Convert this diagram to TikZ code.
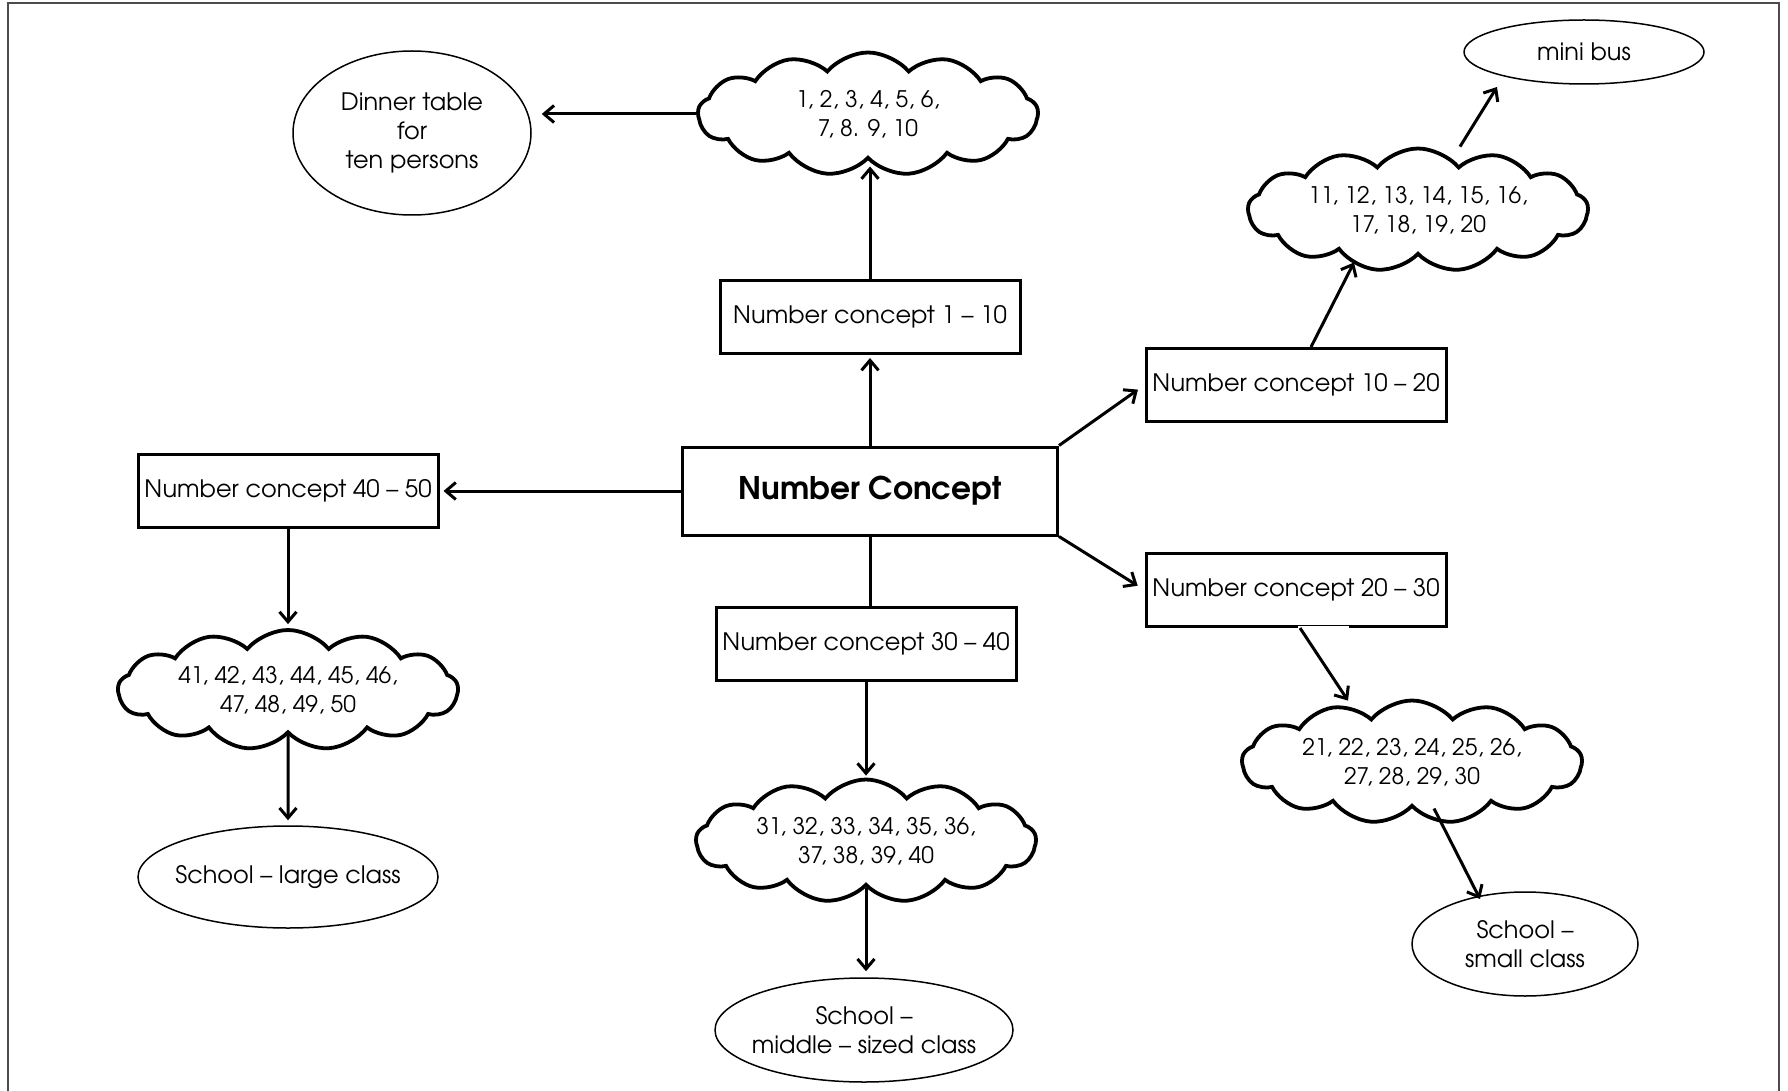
\documentclass[tikz,border=0pt]{standalone}
\usepackage{fontspec}
\setmainfont{texgyreadventor}[Extension=.otf, UprightFont=*-regular, BoldFont=*-bold]
\usetikzlibrary{shapes.geometric,shapes.symbols,arrows.meta}
\begin{document}
\begin{tikzpicture}[x=0.5pt,y=-0.5pt,
  txt/.style={font=\fontsize{12}{14.5}\selectfont, align=center, inner sep=0pt},
  box/.style={txt, draw, line width=1.5pt, minimum width=150pt, minimum height=36.5pt},
  mainbox/.style={draw, line width=1.5pt, minimum width=187.5pt, minimum height=44pt, inner sep=0pt, font=\fontsize{15.6}{18}\selectfont\bfseries},
  ell/.style={draw, ellipse, line width=0.75pt, inner sep=0pt},
  etxt/.style={txt},
  puff/.style={txt, font=\fontsize{11.4}{14.2}\selectfont, draw, cloud, cloud puffs=13, cloud puff arc=100, cloud ignores aspect, line width=1.9pt, minimum width=170pt, minimum height=61.5pt},
  arr/.style={line width=1.5pt, -{Straight Barb[length=5pt,width=8.5pt]}},
  link/.style={line width=1.5pt},
  frame/.style={line width=1pt, draw=black!70}]
\useasboundingbox (0,0) rectangle (1788,1091);
\draw[frame] (8,1091) -- (8,3) -- (1779,3) -- (1779,1091);

% nodes
\node[mainbox] (central) at (870,491) {Number Concept};
\node[box] (b1) at (870,317) {Number concept 1 -- 10};
\node[box] (b10) at (1296,385) {Number concept 10 -- 20};
\node[box] (b20) at (1296,590) {Number concept 20 -- 30};
\node[box] (b30) at (866,644) {Number concept 30 -- 40};
\node[box] (b40) at (288,491) {Number concept 40 -- 50};

\node[puff] (c1) at (868,114) {1, 2, 3, 4, 5, 6,\\7, 8. 9, 10};
\node[puff] (c2) at (1418,210) {11, 12, 13, 14, 15, 16,\\17, 18, 19, 20};
\node[puff] (c5) at (1412,762) {21, 22, 23, 24, 25, 26,\\27, 28, 29, 30};
\node[puff] (c3) at (866,841) {31, 32, 33, 34, 35, 36,\\37, 38, 39, 40};
\node[puff, minimum height=60pt] (c4) at (288,690) {41, 42, 43, 44, 45, 46,\\47, 48, 49, 50};

\node[ell, minimum width=119pt, minimum height=82pt, label={[etxt]center:Dinner table\\for\\ten persons}] (dinner) at (412,133) {};
\node[ell, minimum width=120pt, minimum height=32pt, label={[etxt]center:mini bus}] (bus) at (1584,52) {};
\node[ell, minimum width=150pt, minimum height=51pt, label={[etxt]center:School -- large class}] (e4) at (288,877) {};
\node[ell, minimum width=149pt, minimum height=52pt, label={[etxt]center:School --\\middle -- sized class}] (e3) at (864,1030) {};
\node[ell, minimum width=113pt, minimum height=52pt, label={[etxt]center:School --\\small class}] (e5) at (1525,944) {};

% connectors
\draw[arr, shorten >=5pt] (c1.west) -- (c1.west -| dinner.east);
\draw[arr, shorten >=3pt] (b1.north) -- (b1.north |- c1.south);
\draw[arr, shorten >=1.5pt] (central.north) -- (b1.south);
\draw[arr, shorten >=2pt] (central.west) -- (central.west -| b40.east);
\draw[arr, shorten >=2pt] (b40.south) -- (c4.north);
\draw[arr, shorten >=2.5pt] (c4.south) -- (e4.north);
\draw[link] (central.south) -- (central.south |- b30.north);
\draw[arr, shorten >=1pt] (b30.south) -- (b30.south |- c3.north);
\draw[arr, shorten >=3pt] (c3.south) -- (c3.south |- e3.north);
\draw[arr, shorten >=4pt] (central.north east) -- (b10.west);
\draw[arr, shorten >=4pt] (central.south east) -- (b20.west);
\draw[arr] ([xshift=7.5pt]b10.north) -- ([xshift=-32pt,yshift=-3pt]c2.south);
\draw[arr] ([xshift=21pt]c2.north) -- ([xshift=-43.5pt,yshift=-17.5pt]bus.center);
\draw[white, line width=2.5pt] ([xshift=1pt]b20.south) -- ([xshift=26.5pt]b20.south);
\draw[arr] ([xshift=2pt]b20.south) -- ([xshift=-32pt,yshift=-1pt]c5.north);
\draw[arr] ([xshift=11pt]c5.south) -- ([xshift=-22.5pt,yshift=22.5pt]e5.center);
\end{tikzpicture}
\end{document}
